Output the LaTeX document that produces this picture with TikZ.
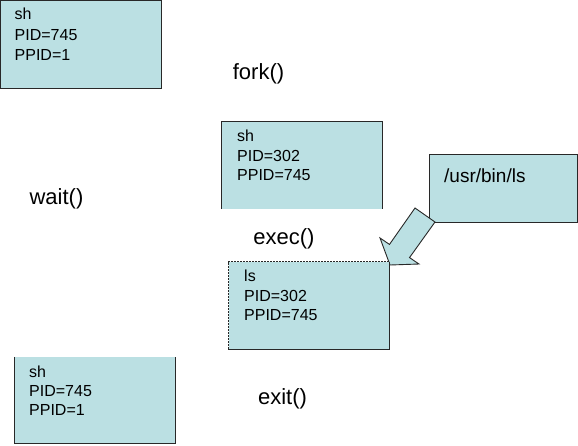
\documentclass[tikz,border=0pt]{standalone}
\usepackage{fontspec}
\setmainfont{Liberation Sans}
\definecolor{boxfill}{RGB}{187,224,227}
\definecolor{edge}{RGB}{40,40,40}
\tikzset{
  x=1pt, y=-1pt,
  procbox/.style={fill=boxfill, draw=none, inner sep=0pt, anchor=center},
  boxtext/.style={inner sep=0pt, anchor=base west, font=\fontsize{16}{19}\selectfont},
  calltext/.style={inner sep=0pt, anchor=base, font=\fontsize{22}{25}\selectfont},
  edgeline/.style={draw=edge, line width=1pt},
  dashedge/.style={draw=edge, line width=0.9pt, dash pattern=on 2pt off 1pt},
}
\begin{document}
\begin{tikzpicture}
\useasboundingbox (0,0) rectangle (578,445);

% box A: parent sh
\node[procbox, minimum width=160pt, minimum height=87pt] (pa) at (81,44.5) {};
\draw[edgeline] (pa.south west) rectangle (pa.north east);
\node[boxtext] (pa1) at (14.5,19) {sh};
\node[boxtext] (pa2) at (14.5,40.5) {PID=745};
\node[boxtext] (pa3) at (14.5,60) {PPID=1};

% box B: child sh
\node[procbox, minimum width=160pt, minimum height=87pt] (pb) at (302,165.5) {};
\draw[edgeline] (pb.south west) -- (pb.north west) -- (pb.north east) -- (pb.south east);
\node[boxtext] (pb1) at (237,141) {sh};
\node[boxtext] (pb2) at (237,161) {PID=302};
\node[boxtext] (pb3) at (237,180) {PPID=745};

% /usr/bin/ls box
\node[procbox, minimum width=147.5pt, minimum height=67pt] (usr) at (503.25,188.5) {};
\draw[edgeline] (usr.south west) rectangle (usr.north east);
\node[boxtext, font=\fontsize{19}{22}\selectfont] (usrt) at (444,182) {/usr/bin/ls};

% block arrow from /usr/bin/ls to ls
\coordinate (a1) at (415,208);
\coordinate (a2) at (389.5,244.4);
\coordinate (a3) at (380,238);
\coordinate (a4) at (390,265);
\coordinate (a5) at (419,264);
\coordinate (a6) at (409.5,257.6);
\coordinate (a7) at (435,222);
\draw[edgeline, line width=0.9pt, fill=boxfill, line join=miter] (a1) -- (a2) -- (a3) -- (a4) -- (a5) -- (a6) -- (a7) -- cycle;

% ls box
\node[procbox, minimum width=161pt, minimum height=87pt] (pl) at (309,305.5) {};
\draw[dashedge] (pl.south west) -- (pl.north west) -- (pl.north east);
\draw[edgeline] (pl.north east) -- (pl.south east) -- (pl.south west);
\node[boxtext] (pl1) at (244,281.5) {ls};
\node[boxtext] (pl2) at (244,301.5) {PID=302};
\node[boxtext] (pl3) at (244,320) {PPID=745};

% bottom box: parent sh again
\node[procbox, minimum width=160.7pt, minimum height=86.5pt] (pc) at (94.65,400.25) {};
\draw[edgeline] (pc.north west) -- (pc.south west) -- (pc.south east) -- (pc.north east);
\node[boxtext] (pc1) at (29,377) {sh};
\node[boxtext] (pc2) at (29,396) {PID=745};
\node[boxtext] (pc3) at (29,415) {PPID=1};

% system call labels
\node[calltext] (fork) at (258.5,79) {fork()};
\node[calltext] (wait) at (56.5,204.5) {wait()};
\node[calltext] (exec) at (284,244) {exec()};
\node[calltext] (exit) at (282.5,404.5) {exit()};
\end{tikzpicture}
\end{document}
